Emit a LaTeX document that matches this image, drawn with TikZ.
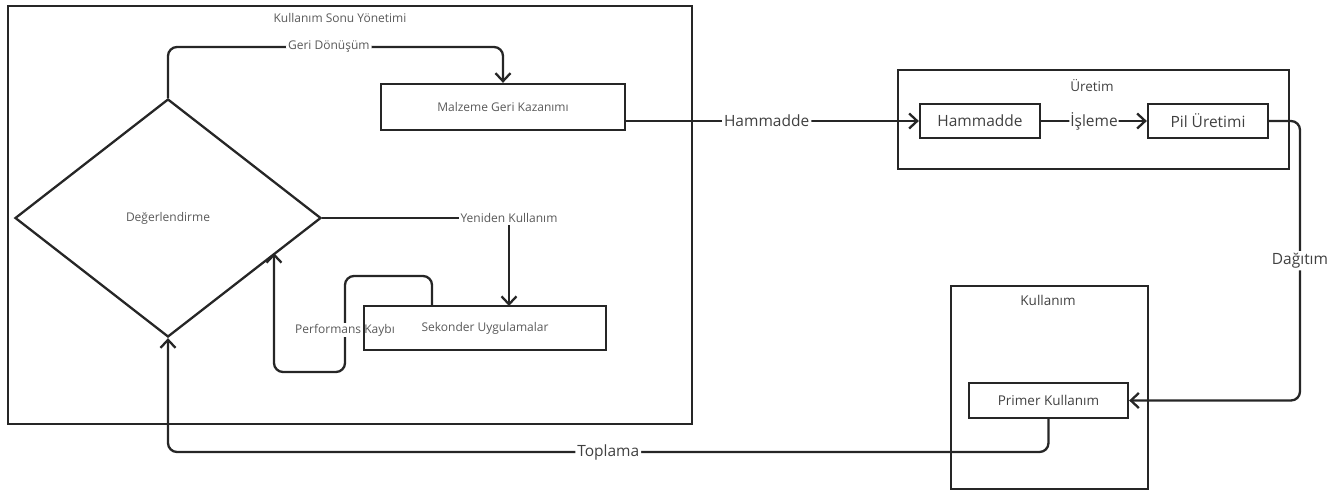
\documentclass[tikz,border=0pt]{standalone}
\usepackage{fontspec}
\setmainfont{Open Sans}
\usetikzlibrary{shapes.geometric,arrows.meta}
\begin{document}
\begin{tikzpicture}[x=1pt,y=-1pt,
  box/.style={draw=black!85,line width=2.3pt,inner sep=0pt},
  frame/.style={draw=black!85,line width=2.3pt},
  small/.style={font=\fontsize{12}{14}\selectfont,text=black!65},
  big/.style={font=\fontsize{15.5}{18}\selectfont,text=black!75},
  mid/.style={font=\fontsize{13.5}{16}\selectfont,text=black!75},
  arr/.style={draw=black!85,line width=2.3pt,rounded corners=9pt,-{Straight Barb[length=8pt,width=15pt,line width=2.3pt]}},
  lbl/.style={fill=white,inner sep=2pt}
]
\useasboundingbox (0,0) rectangle (1342,493);
% frames
\node[frame,minimum width=684pt,minimum height=418pt,inner sep=0pt] (eol) at (350,215) {};
\node[small] (eolt) at (340,18) {Kullanım Sonu Yönetimi};
\node[frame,minimum width=391pt,minimum height=99pt,inner sep=0pt] (uret) at (1093.5,119.5) {};
\node[mid] (urett) at (1092,86) {Üretim};
\node[frame,minimum width=197pt,minimum height=203pt,inner sep=0pt] (kul) at (1049.5,387.5) {};
\node[mid] (kult) at (1048,300) {Kullanım};
% nodes
\node[box,shape=diamond,minimum width=306pt,minimum height=238pt,small] (deg) at (168,218) {Değerlendirme};
\node[box,minimum width=244pt,minimum height=46pt,small] (mgk) at (503,107) {Malzeme Geri Kazanımı};
\node[box,minimum width=120pt,minimum height=34pt,big] (ham) at (980,121) {Hammadde};
\node[box,minimum width=120pt,minimum height=34pt,big] (pil) at (1208,121) {Pil Üretimi};
\node[box,minimum width=159pt,minimum height=35pt,mid] (pk) at (1048.5,400.5) {Primer Kullanım};
% connectors
\coordinate (gd1) at (168,47);
\coordinate (gd2) at (503,47);
\draw[arr] (deg.north) -- (gd1) -- node[lbl,small,pos=0.48]{Geri Dönüşüm} (gd2) -- (mgk.north);
\draw[arr] (mgk.east |- ham.west) -- node[lbl,big,pos=0.48]{Hammadde} (ham.west);
\draw[arr] (ham.east) -- node[lbl,big,inner sep=1pt]{İşleme} (pil.west);
\coordinate (dg1) at (1300,121);
\coordinate (dg2) at (1300,400.5);
\draw[arr] (pil.east) -- (dg1) -- node[lbl,big]{Dağıtım} (dg2) -- (pk.east);
\coordinate (tp1) at (1048.5,452);
\coordinate (tp2) at (168,452);
\draw[arr] (pk.south) -- (tp1) -- node[lbl,big,pos=0.5]{Toplama} (tp2) -- (deg.south);
\coordinate (yk) at (509,218);
\draw[arr,rounded corners=0pt] (deg.east) -- (yk) -- (yk |- 0,306);
\node[lbl,small] (ykl) at (yk) {Yeniden Kullanım};
\coordinate (pf0) at (432,306);
\coordinate (pf1) at (432,276);
\coordinate (pf2) at (345,276);
\coordinate (pf3) at (345,372);
\coordinate (pf4) at (274,372);
\coordinate (pf5) at (274,253);
\draw[arr] (pf0) -- (pf1) -- (pf2) -- (pf3) -- (pf4) -- (pf5);
\node[lbl,small,inner sep=1pt] (pfl) at (345,330) {Performans Kaybı};
\node[box,minimum width=242pt,minimum height=44pt,small] (sek) at (485,328) {Sekonder Uygulamalar};
\end{tikzpicture}
\end{document}
